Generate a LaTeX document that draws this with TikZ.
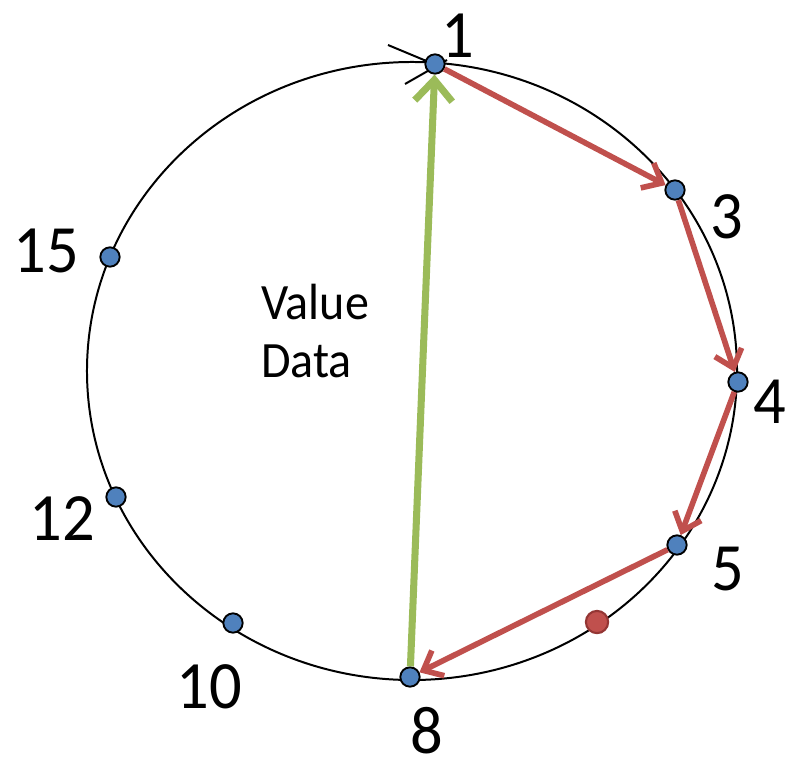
\documentclass[tikz,border=0pt]{standalone}
\usepackage{fontspec}
\setmainfont{Carlito}
\usetikzlibrary{arrows.meta}

\definecolor{peerblue}{HTML}{4F81BD}
\definecolor{hopred}{HTML}{C0504D}
\definecolor{keyred}{HTML}{943634}
\definecolor{lookgreen}{HTML}{9BBB59}

\tikzset{
  ring/.style={line width=1.7pt, black},
  peer/.style={circle, draw=black, line width=1.6pt, fill=peerblue, inner sep=0pt, minimum size=16.5pt},
  keydot/.style={circle, draw=keyred, line width=1.8pt, fill=hopred, inner sep=0pt, minimum size=19pt},
  hop/.style={hopred, line width=4.8pt, -{Straight Barb[length=14pt, width=24pt]}},
  lookup/.style={lookgreen, line width=6pt, -{Straight Barb[length=18pt, width=32pt]}},
  idlabel/.style={font=\fontsize{55}{60}\selectfont, inner sep=0pt, yscale=1.05, transform shape},
  info/.style={font=\fontsize{41}{47}\selectfont, align=left, inner sep=0pt, yscale=1.06, transform shape}
}

\begin{document}
\begin{tikzpicture}[x=0.03cm, y=-0.03cm]
\useasboundingbox (0,0) rectangle (787,762);

% ---------- the ring ----------
\coordinate (c) at (412,371);
\draw[ring] (c) ellipse [x radius=9.75cm, y radius=9.27cm];
\coordinate (tickA) at (388,45);
\coordinate (tickB) at (405,84);
\coordinate (tickC) at (447,60);
\coordinate (tickD) at (436,65);
\draw[ring] (tickA) -- (tickD);
\draw[ring] (tickB) -- (tickC);

% ---------- peers ----------
\node[peer] (n1)  at (435,64)  {};
\node[peer] (n3)  at (675,190) {};
\node[peer] (n4)  at (738,382) {};
\node[peer] (n5)  at (677,545) {};
\node[peer] (n8)  at (410,677) {};
\node[peer] (n10) at (233,623) {};
\node[peer] (n12) at (116,497) {};
\node[peer] (n15) at (110,257) {};
\node[keydot] (key) at (597,622) {};

% ---------- ids ----------
\node[idlabel] (l1)  at (458,36)  {1};
\node[idlabel] (l3)  at (727,217) {3};
\node[idlabel] (l4)  at (770,402) {4};
\node[idlabel] (l5)  at (728,569) {5};
\node[idlabel] (l8)  at (427,731) {8};
\node[idlabel] (l10) at (209,687) {10};
\node[idlabel] (l12) at (62,519)  {12};
\node[idlabel] (l15) at (46,251)  {15};

\node[info, anchor=west] (val) at (261,331) {Value\\Data};

% ---------- routing ----------
\draw[hop] (n1) -- (n3);
\draw[hop] (n3) -- (n4);
\draw[hop] (n4) -- (n5);
\draw[hop] (n5) -- (n8);
\draw[lookup] (n8) -- (n1);

\end{tikzpicture}
\end{document}
